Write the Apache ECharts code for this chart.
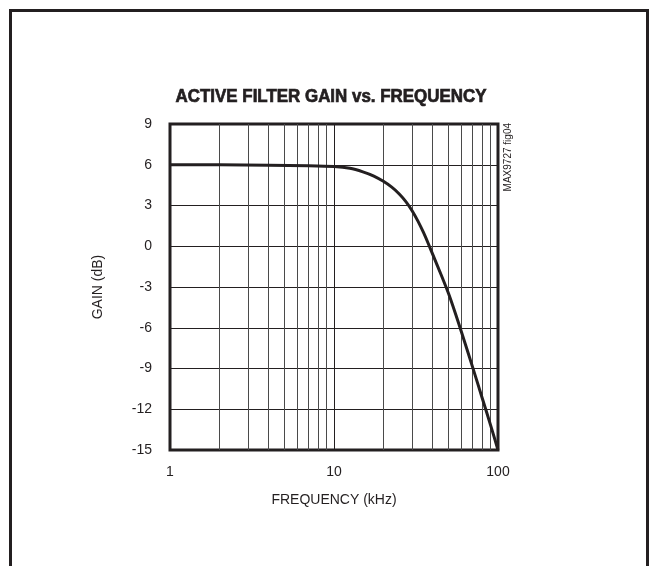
<!DOCTYPE html>
<html>
<head>
<meta charset="utf-8">
<script src="https://cdn.jsdelivr.net/npm/echarts@6/dist/echarts.min.js"></script>
<style>
html,body{margin:0;padding:0;background:#fff;}
#c{width:652px;height:566px;}
</style>
</head>
<body>
<div id="c"></div>
<script>
// Data
const freqKHz = [1, 2, 4, 7, 10, 12.5, 15, 17.5, 20, 22.5, 25, 27.5, 30, 32.5, 35, 37.5, 40, 45, 50, 55, 60, 70, 80, 90, 100];
const gainDB  = [6.0, 6.0, 5.97, 5.93, 5.87, 5.74, 5.48, 5.17, 4.78, 4.35, 3.85, 3.27, 2.6, 1.85, 1.05, 0.22, -0.6, -2.1, -3.5, -4.95, -6.35, -8.9, -11.15, -13.15, -15.0];
const minorGridFreqs = [2, 3, 4, 5, 6, 7, 8, 9, 20, 30, 40, 50, 60, 70, 80, 90];
const yTicks = [-15, -12, -9, -6, -3, 0, 3, 6, 9];
const titleText = 'ACTIVE FILTER GAIN vs. FREQUENCY';
const xName = 'FREQUENCY (kHz)';
const yName = 'GAIN (dB)';
const sideNote = 'MAX9727 fig04';

const FONT = '"Liberation Sans Narrow", "Arial Narrow", "Liberation Sans", Arial, sans-serif';
const INK = '#231f20';

const chart = echarts.init(document.getElementById('c'), null, {renderer: 'canvas'});
chart.setOption({
  animation: false,
  backgroundColor: '#fff',
  graphic: [
    {type: 'rect', shape: {x: 10.5, y: 10.5, width: 637, height: 600},
     style: {fill: 'none', stroke: INK, lineWidth: 3}, silent: true},
    {type: 'text', x: 331, y: 97, scaleX: 0.94,
     style: {text: titleText, fontFamily: FONT, fontWeight: 'bold', fontSize: 18, fill: INK,
             stroke: INK, lineWidth: 0.7,
             textAlign: 'center', textVerticalAlign: 'middle'}},
    {type: 'text', x: 508, y: 123, rotation: Math.PI / 2,
     style: {text: sideNote, fontFamily: FONT, fontSize: 10, fill: INK,
             textAlign: 'right', textVerticalAlign: 'middle'}}
  ],
  grid: {left: 170, top: 124, right: 154, bottom: 116, show: true,
         borderColor: INK, borderWidth: 3, backgroundColor: 'transparent'},
  xAxis: {
    type: 'log', logBase: 10, min: 1, max: 100,
    name: xName, nameLocation: 'middle', nameGap: 43,
    nameTextStyle: {fontFamily: FONT, fontSize: 14, color: INK},
    axisLine: {show: false}, axisTick: {show: false},
    axisLabel: {fontFamily: FONT, fontSize: 14, color: INK, margin: 15},
    splitLine: {show: true, lineStyle: {color: INK, width: 1}}
  },
  yAxis: {
    type: 'value', min: -15, max: 9, interval: 3,
    name: yName, nameLocation: 'middle', nameGap: 65, nameRotate: 90,
    nameTextStyle: {fontFamily: FONT, fontSize: 14, color: INK},
    axisLine: {show: false}, axisTick: {show: false},
    axisLabel: {fontFamily: FONT, fontSize: 14, color: INK, margin: 18,
                formatter: v => yTicks.includes(v) ? String(v) : ''},
    splitLine: {show: true, lineStyle: {color: INK, width: 1}}
  },
  series: [
    {
      type: 'line', data: [], silent: true,
      markLine: {
        silent: true, symbol: 'none', animation: false,
        label: {show: false},
        lineStyle: {color: '#4a4a4a', width: 1, type: 'solid'},
        data: minorGridFreqs.map(f => ({xAxis: f}))
      }
    },
    {
      type: 'line', smooth: 0.25, showSymbol: false, symbol: 'none', silent: true,
      lineStyle: {color: INK, width: 3, join: 'round'},
      data: freqKHz.map((f, i) => [f, gainDB[i]]),
      z: 5
    }
  ]
});
</script>
</body>
</html>
